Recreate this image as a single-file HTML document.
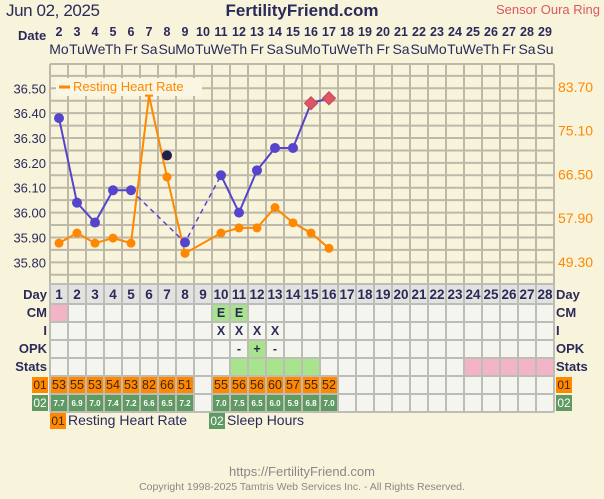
<!DOCTYPE html>
<html><head><style>
body{margin:0;background:#f8f4dc;width:604px;height:494px;overflow:hidden;font-family:"Liberation Sans",sans-serif}
</style></head><body>
<svg width="604" height="494" xmlns="http://www.w3.org/2000/svg" font-family="Liberation Sans, sans-serif">
<rect width="604" height="494" fill="#f8f4dc"/>
<text x="6" y="16" font-size="17" fill="#2a2a5a" textLength="94">Jun 02, 2025</text>
<text x="302" y="16" font-size="17" fill="#2a2a5a" text-anchor="middle" font-weight="bold">FertilityFriend.com</text>
<text x="600" y="14" font-size="13" fill="#dd5566" text-anchor="end">Sensor Oura Ring</text>
<text x="18" y="40" font-size="13" fill="#2a2a5a" font-weight="bold">Date</text>
<g id="hdr" font-size="12" fill="#2a2a5a" text-anchor="middle"></g>
<g id="grid" stroke="#bdb8a8" stroke-width="2"></g>
<rect x="56" y="78" width="146" height="18" fill="#f9f6e4"/>
<line x1="59" y1="87" x2="70" y2="87" stroke="#ff8800" stroke-width="3"/>
<text x="73" y="91" font-size="13" fill="#ff8800">Resting Heart Rate</text>
<g id="ylab" font-size="13"></g>
<g id="series"></g>
<g id="table"></g>
<text x="302" y="476" font-size="13" fill="#888" text-anchor="middle">https://FertilityFriend.com</text>
<text x="302" y="490" font-size="10.5" fill="#888" text-anchor="middle">Copyright 1998-2025 Tamtris Web Services Inc. - All Rights Reserved.</text>
</svg>
<script>
const NS="http://www.w3.org/2000/svg";
function el(p,t,a,txt){const e=document.createElementNS(NS,t);for(const k in a)e.setAttribute(k,a[k]);if(txt!==undefined)e.textContent=txt;document.getElementById(p).appendChild(e);return e;}
const cx=d=>59+18*(d-1);
const names=["Mo","Tu","We","Th","Fr","Sa","Su"];
for(let i=0;i<28;i++){el("hdr","text",{x:cx(i+1),y:36,"font-weight":"bold","font-size":"12.5"},String(i+2));el("hdr","text",{x:cx(i+1),y:54,"font-size":"14"},names[i%7]);}
for(let i=0;i<=28;i++){el("grid","line",{x1:50+18*i,y1:64,x2:50+18*i,y2:284});}
for(let y=88.3-12.43;y<284;y+=12.43){if(y>=64)el("grid","line",{x1:50,y1:y,x2:554,y2:y});}
el("grid","line",{x1:50,y1:64,x2:554,y2:64});
const ty=v=>88.3+(36.50-v)*248.6;
[36.5,36.4,36.3,36.2,36.1,36.0,35.9,35.8].forEach(v=>el("ylab","text",{x:46,y:ty(v)+5,"text-anchor":"end",fill:"#2a2a5a"},v.toFixed(2)));
const hy=h=>87+(83.70-h)*5.087;
[83.70,75.10,66.50,57.90,49.30].forEach(v=>el("ylab","text",{x:558,y:hy(v)+5,fill:"#ff8800","font-size":"14"},v.toFixed(2)));
const hr={1:53,2:55,3:53,4:54,5:53,6:82,7:66,8:51,10:55,11:56,12:56,13:60,14:57,15:55,16:52};
let pts=Object.keys(hr).map(d=>cx(+d)+","+hy(hr[d])).join(" ");
el("series","polyline",{points:pts,fill:"none",stroke:"#ff8800","stroke-width":2});
Object.keys(hr).forEach(d=>{if(+d==6){el("series","line",{x1:cx(6)-4,y1:hy(82),x2:cx(6)+4,y2:hy(82),stroke:"#ff8800","stroke-width":2});}else el("series","circle",{cx:cx(+d),cy:hy(hr[d]),r:4.5,fill:"#ff8800"});});
const t={1:36.38,2:36.04,3:35.96,4:36.09,5:36.09,8:35.88,10:36.15,11:36.00,12:36.17,13:36.26,14:36.26,15:36.44,16:36.46};
const P=d=>cx(d)+","+ty(t[d]);
el("series","polyline",{points:[1,2,3,4,5].map(P).join(" "),fill:"none",stroke:"#5544cc","stroke-width":2});
el("series","polyline",{points:[5,8,10].map(P).join(" "),fill:"none",stroke:"#5544cc","stroke-width":1.5,"stroke-dasharray":"5,4"});
el("series","polyline",{points:[10,11,12,13,14,15,16].map(P).join(" "),fill:"none",stroke:"#5544cc","stroke-width":2});
[1,2,3,4,5,8,10,11,12,13,14].forEach(d=>el("series","circle",{cx:cx(d),cy:ty(t[d]),r:5,fill:"#5544cc"}));
el("series","circle",{cx:cx(7),cy:ty(36.23),r:5,fill:"#22204a"});
[15,16].forEach(d=>{const x=cx(d),y=ty(t[d]);el("series","polygon",{points:`${x},${y-6.5} ${x+6.5},${y} ${x},${y+6.5} ${x-6.5},${y}`,fill:"#dd5566",stroke:"#c04a55","stroke-width":1});});
const T="table";
el(T,"rect",{x:50,y:284,width:504,height:20,fill:"#e2e2e0"});
el(T,"rect",{x:50,y:304,width:504,height:108,fill:"#f5f5ef"});
const fills=[["cm",1,"#f2b4c6"],["cm",10,"#a8e48c"],["cm",11,"#a8e48c"],["opk",12,"#a8e48c"]];
const rowY={cm:304,i:322,opk:340,st:358,r1:376,r2:394};
fills.forEach(f=>el(T,"rect",{x:50+18*(f[1]-1),y:rowY[f[0]],width:18,height:18,fill:f[2]}));
for(let d=11;d<=15;d++)el(T,"rect",{x:50+18*(d-1),y:358,width:18,height:18,fill:"#a8e48c"});
for(let d=24;d<=28;d++)el(T,"rect",{x:50+18*(d-1),y:358,width:18,height:18,fill:"#f2b4c6"});
const sl={1:"7.7",2:"6.9",3:"7.0",4:"7.4",5:"7.2",6:"6.6",7:"6.5",8:"7.2",10:"7.0",11:"7.5",12:"6.5",13:"6.0",14:"5.9",15:"6.8",16:"7.0"};
Object.keys(hr).forEach(d=>{const x=50+18*(d-1);
el(T,"rect",{x:x+1,y:377,width:16,height:16,fill:"#ff8800"});
el(T,"text",{x:x+9,y:389,"font-size":"12.5",fill:"#3a2a1a","text-anchor":"middle"},hr[d]);
el(T,"rect",{x:x+1,y:395,width:16,height:16,fill:"#5e9a62"});
el(T,"text",{x:x+9,y:406,"font-size":"8","font-weight":"bold",fill:"#fff","text-anchor":"middle"},sl[d]);});
for(let d=1;d<=28;d++)el(T,"text",{x:cx(d),y:299,"font-size":"13.5","font-weight":"bold",fill:"#2a2a5a","text-anchor":"middle"},d);
[[10,"E",317],[11,"E",317],[10,"X",335],[11,"X",335],[12,"X",335],[13,"X",335],[11,"-",353],[12,"+",353],[13,"-",353]].forEach(a=>el(T,"text",{x:cx(a[0]),y:a[2],"font-size":"12.5","font-weight":"bold",fill:"#2a2a5a","text-anchor":"middle"},a[1]));
for(let i=0;i<=28;i++)el(T,"line",{x1:50+18*i,y1:284,x2:50+18*i,y2:412,stroke:"#bdbdb8","stroke-width":2});
[284,304,322,340,358,376,394,412].forEach(y=>el(T,"line",{x1:50,y1:y,x2:554,y2:y,stroke:"#bdbdb8","stroke-width":2}));
[["Day",299],["CM",317],["I",335],["OPK",353],["Stats",371]].forEach(a=>{
el(T,"text",{x:47,y:a[1],"font-size":"13","font-weight":"bold",fill:"#2a2a5a","text-anchor":"end"},a[0]);
el(T,"text",{x:556,y:a[1],"font-size":"13","font-weight":"bold",fill:"#2a2a5a"},a[0]);});
function badge(x,y,c,tx,tc){el(T,"rect",{x:x,y:y,width:16,height:16,fill:c});el(T,"text",{x:x+8,y:y+12,"font-size":"12",fill:tc,"text-anchor":"middle"},tx);}
badge(32,377,"#ff8800","01","#3a2a1a");badge(32,395,"#5e9a62","02","#fff");
badge(556,377,"#ff8800","01","#3a2a1a");badge(556,395,"#5e9a62","02","#fff");
badge(50,413,"#ff8800","01","#3a2a1a");
el(T,"text",{x:68,y:425,"font-size":"14",fill:"#2a2a5a"},"Resting Heart Rate");
badge(209,413,"#5e9a62","02","#fff");
el(T,"text",{x:227,y:425,"font-size":"14",fill:"#2a2a5a"},"Sleep Hours");
</script>
</body></html>
